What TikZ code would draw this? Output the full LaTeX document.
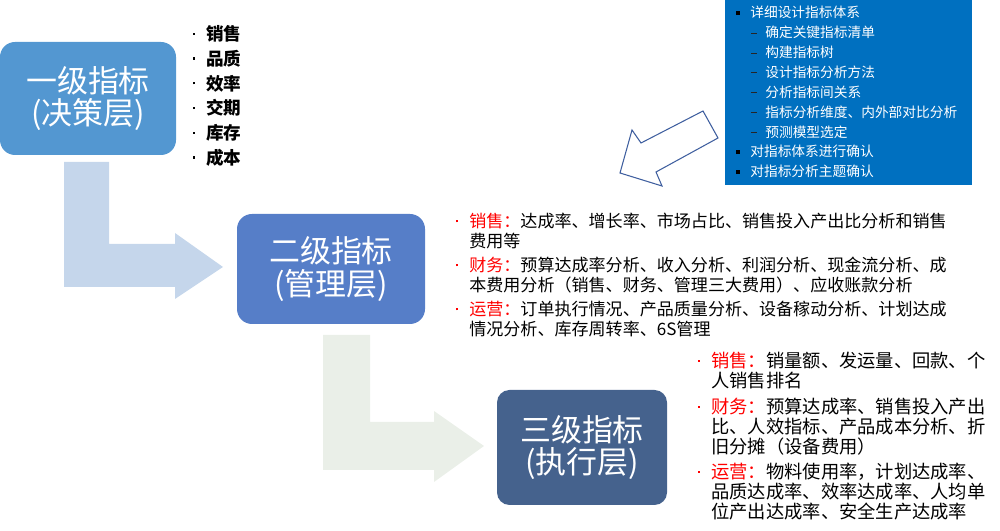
\documentclass[tikz,border=0pt]{standalone}
\usepackage{fontspec}
\setmainfont{Noto Sans CJK SC}
\usetikzlibrary{positioning}
\definecolor{lvone}{HTML}{5397D1}
\definecolor{lvtwo}{HTML}{567EC8}
\definecolor{lvthree}{HTML}{45628D}
\definecolor{flowone}{HTML}{C5D6EB}
\definecolor{flowtwo}{HTML}{EAEFE8}
\definecolor{panelblue}{HTML}{0070C0}
\definecolor{hollowline}{HTML}{3F5F9F}
\newcommand{\hd}[1]{\textcolor{red}{#1}}
\newcommand{\dotmk}[1]{\makebox[0pt][r]{\textcolor{#1}{\raisebox{0.32em}{\rule{1.3pt}{1.3pt}}}\hspace{2.3mm}}}
\newcommand{\sqmk}{\makebox[0pt][r]{\textcolor{black}{\raisebox{0.2em}{\rule{2.3pt}{2.3pt}}}\hspace{2mm}}}
\newcommand{\dashmk}{\hspace*{3mm}\makebox[0pt][r]{\textcolor{black!85}{\raisebox{0.3em}{\rule{1.2mm}{0.5pt}}}\hspace{1.6mm}}}

\begin{document}
\begin{tikzpicture}[
  x=0.2mm, y=-0.2mm,
  lvbox/.style={rounded corners=3mm, text=white, align=center, inner sep=0pt,
    font=\fontsize{17.6}{18.4}\selectfont},
  lst/.style={anchor=north west, inner sep=0pt, align=left},
  hollow/.style={draw=hollowline, line width=0.6pt, fill=white}]
\useasboundingbox (0,0) rectangle (1000,531);
% ---- flow arrows ----
\fill[flowone] (64,162) -- (109,162) -- (109,244) -- (175,244) -- (175,233) -- (223,267)
  -- (175,299) -- (175,287) -- (64,287) -- cycle;
\fill[flowtwo] (323,335) -- (370,335) -- (370,422) -- (434,422) -- (434,411) -- (484,446)
  -- (434,482) -- (434,470) -- (323,470) -- cycle;
% ---- level boxes ----
\node[lvbox, fill=lvone, minimum width=35.2mm, minimum height=22.6mm] (one) at (88,98.5) {一级指标\\(决策层)};
\node[lvbox, fill=lvtwo, minimum width=37.6mm, minimum height=22mm] (two) at (331,269) {二级指标\\(管理层)};
\node[lvbox, fill=lvthree, minimum width=34mm, minimum height=23mm, rounded corners=2.5mm] (three) at (582,447.5) {三级指标\\(执行层)};
% ---- level 1 list ----
\node[lst, font=\fontsize{10}{14.1}\selectfont\bfseries] (kpi) at (206,25)
  {\dotmk{black}销售\\ \dotmk{black}品质\\ \dotmk{black}效率\\ \dotmk{black}交期\\ \dotmk{black}库存\\ \dotmk{black}成本};
% ---- level 2 list ----
\begin{scope}[font=\fontsize{9.7}{11.4}\selectfont]
\node[lst] (mgsale) at (469,213)
  {\dotmk{red}\hd{销售：}达成率、增长率、市场占比、销售投入产出比分析和销售\\费用等};
\node[lst] (mgfin) at (469,257)
  {\dotmk{red}\hd{财务：}预算达成率分析、收入分析、利润分析、现金流分析、成\\本费用分析（销售、财务、管理三大费用）、应收账款分析};
\node[lst] (mgops) at (469,301)
  {\dotmk{red}\hd{运营：}订单执行情况、产品质量分析、设备稼动分析、计划达成\\情况分析、库存周转率、6S管理};
\end{scope}
% ---- level 3 list ----
\begin{scope}[font=\fontsize{10.4}{11.4}\selectfont]
\node[lst] (exsale) at (711,352)
  {\dotmk{red}\hd{销售：}销量额、发运量、回款、个\\人销售排名};
\node[lst] (exfin) at (711,398)
  {\dotmk{red}\hd{财务：}预算达成率、销售投入产出\\比、人效指标、产品成本分析、折\\旧分摊（设备费用）};
\node[lst] (exops) at (711,463)
  {\dotmk{red}\hd{运营：}物料使用率，计划达成率、\\品质达成率、效率达成率、人均单\\位产出达成率、安全生产达成率};
\end{scope}
% ---- design panel ----
\node[fill=panelblue, anchor=north west, minimum width=49.4mm, minimum height=37mm, inner sep=0pt] (panel) at (725,0) {};
\node[lst, text=white, font=\fontsize{7.8}{11.3}\selectfont] (plan) at (750,6)
  {\sqmk 详细设计指标体系\\
   \dashmk 确定关键指标清单\\
   \dashmk 构建指标树\\
   \dashmk 设计指标分析方法\\
   \dashmk 分析指标间关系\\
   \dashmk 指标分析维度、内外部对比分析\\
   \dashmk 预测模型选定\\
   \sqmk 对指标体系进行确认\\
   \sqmk 对指标分析主题确认};
\draw[hollow] (703,111) -- (641,143) -- (632,130) -- (620,173) -- (662,186) -- (656,172) -- (718,138) -- cycle;
\end{tikzpicture}
\end{document}
